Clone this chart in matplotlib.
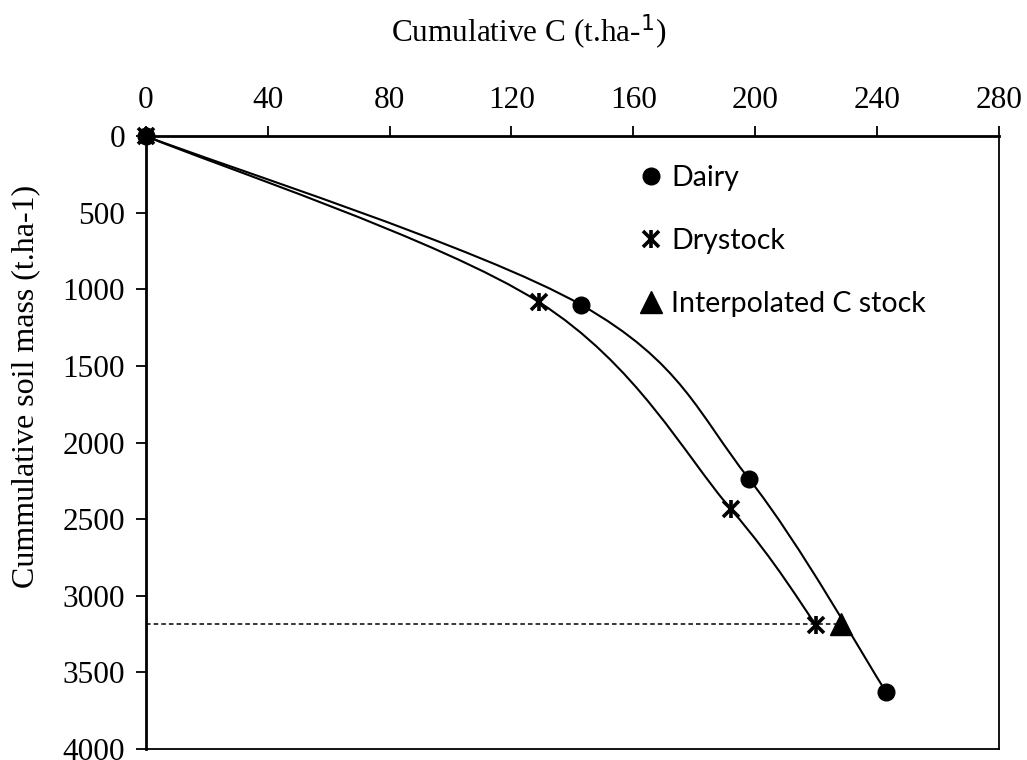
import matplotlib
matplotlib.use("Agg")
import matplotlib.pyplot as plt
from matplotlib.path import Path
from matplotlib.patches import PathPatch
from matplotlib.lines import Line2D

# data
dairy_c = [0, 143, 198, 243]
dairy_mass = [0, 1103, 2238, 3629]
dry_c = [0, 129, 192, 220]
dry_mass = [0, 1083, 2434, 3192]
interp_c = [228]
interp_mass = [3186]

x_ticks = [0, 40, 80, 120, 160, 200, 240, 280]
y_ticks = [0, 500, 1000, 1500, 2000, 2500, 3000, 3500, 4000]


def smooth_path(xs, ys):
    # excel-like smoothed line: catmull-rom as cubic bezier segments
    pts = list(zip(xs, ys))
    verts = [pts[0]]
    codes = [Path.MOVETO]
    n = len(pts)
    for i in range(n - 1):
        p0 = pts[i - 1] if i > 0 else pts[i]
        p1 = pts[i]
        p2 = pts[i + 1]
        p3 = pts[i + 2] if i + 2 < n else pts[i + 1]
        c1 = (p1[0] + (p2[0] - p0[0]) / 6, p1[1] + (p2[1] - p0[1]) / 6)
        c2 = (p2[0] - (p3[0] - p1[0]) / 6, p2[1] - (p3[1] - p1[1]) / 6)
        verts += [c1, c2, p2]
        codes += [Path.CURVE4] * 3
    return Path(verts, codes)


fig = plt.figure(figsize=(10.27, 7.6), dpi=100)
ax = fig.add_axes([0.1419, 0.0145, 0.8308, 0.8065])

serif = "Liberation Serif"

for xs, ys in [(dairy_c, dairy_mass), (dry_c, dry_mass)]:
    ax.add_patch(PathPatch(smooth_path(xs, ys), fill=False, lw=1.5,
                           edgecolor="black", zorder=2))

# dashed guide at interpolated depth
ax.plot([0, interp_c[0]], [interp_mass[0], interp_mass[0]], ls=(0, (3, 2)),
        color="black", lw=1.1, zorder=1)

ax.plot(dairy_c, dairy_mass, ls="none", marker="o", ms=12, color="black",
        zorder=4, clip_on=False)
ax.plot(dry_c, dry_mass, ls="none", marker="x", ms=11, mew=2.6,
        color="black", zorder=4, clip_on=False)
ax.plot(dry_c, dry_mass, ls="none", marker="|", ms=13, mew=2.6,
        color="black", zorder=4, clip_on=False)
ax.plot(interp_c, interp_mass, ls="none", marker="^", ms=16, color="black",
        zorder=4, clip_on=False)

ax.set_xlim(0, 280)
ax.set_ylim(4000, 0)
ax.set_xticks(x_ticks)
ax.set_yticks(y_ticks)
ax.xaxis.tick_top()
ax.xaxis.set_label_position("top")
ax.tick_params(axis="both", direction="out", length=7, width=1.3,
               labelsize=22.5, color="black")
ax.tick_params(axis="x", pad=8)
ax.tick_params(axis="y", pad=8)
for lab in ax.get_xticklabels() + ax.get_yticklabels():
    lab.set_fontfamily(serif)
for s in ax.spines.values():
    s.set_linewidth(1.3)
ax.spines["top"].set_linewidth(2)
ax.spines["left"].set_linewidth(2)

fig.text(0.515, 0.957, "Cumulative C (t.ha-$^{1}$)", ha="center", va="center",
         fontsize=22.5, family=serif)
fig.text(0.025, 0.491, "Cummulative soil mass (t.ha-1)", rotation=90,
         ha="center", va="center", fontsize=23, family=serif)

h_dairy = Line2D([], [], ls="none", marker="o", ms=12, color="black")
h_dry1 = Line2D([], [], ls="none", marker="x", ms=11, mew=2.6, color="black")
h_dry2 = Line2D([], [], ls="none", marker="|", ms=13, mew=2.6, color="black")
h_int = Line2D([], [], ls="none", marker="^", ms=16, color="black")
leg = ax.legend([h_dairy, (h_dry1, h_dry2), h_int],
                ["Dairy", "Drystock", "Interpolated C stock"],
                loc="upper left", bbox_to_anchor=(0.549, 0.995), frameon=False,
                prop={"family": "Lato", "size": 20.5}, handlelength=0.8,
                handletextpad=0.3, labelspacing=1.3)

fig.savefig("out.png", dpi=100)
